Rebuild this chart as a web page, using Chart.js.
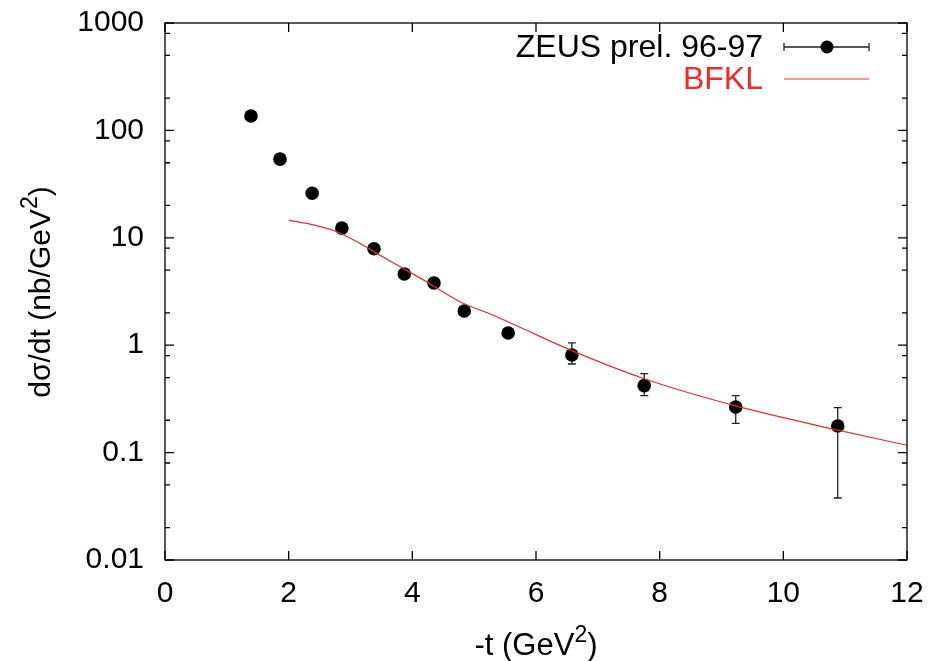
<!DOCTYPE html>
<html>
<head>
<meta charset="utf-8">
<script src="https://cdn.jsdelivr.net/npm/chart.js@4/dist/chart.umd.min.js"></script>
<style>
  html, body { margin: 0; background: #fff; }
</style>
</head>
<body>
<canvas id="xsec" width="929" height="661"></canvas>
<script>
// ZEUS preliminary 96-97 points: -t (GeV^2) and dsigma/dt (nb/GeV^2)
const tVals = [1.39, 1.86, 2.38, 2.86, 3.38, 3.87, 4.35, 4.84, 5.55, 6.58, 7.75, 9.23, 10.88];
const xsecVals = [136, 54, 26, 12.3, 7.9, 4.6, 3.8, 2.08, 1.30, 0.81, 0.42, 0.266, 0.177];
// error bar ends (null where the bar is hidden by the marker)
const errLow = [null, null, null, null, null, null, null, null, null, 0.668, 0.339, 0.1875, 0.0378];
const errHigh = [null, null, null, null, null, null, null, null, null, 1.05, 0.543, 0.339, 0.262];

// BFKL prediction
const bfklT = [2.0, 2.4, 2.78, 3.15, 3.42, 3.75, 4.23, 4.77, 5.3, 5.74, 6.58, 7.74, 9.23, 10.88, 12.0];
const bfklVals = [14.6, 13.2, 11.4, 8.9, 7.2, 5.6, 3.9, 2.54, 1.91, 1.47, 0.89, 0.49, 0.272, 0.162, 0.117];

const xTicks = [0, 2, 4, 6, 8, 10, 12];
const yTicks = [0.01, 0.1, 1, 10, 100, 1000];
const yMinorFactors = [2, 5, 8];

const FONT = "Liberation Sans, Arial, Helvetica, sans-serif";
const INK = "#000";
const RED = "#f02a2a";

// error bars under the markers
const errorBars = {
  id: "errorBars",
  beforeDatasetsDraw(chart) {
    const { ctx, scales: { x, y } } = chart;
    const pts = chart.data.datasets[0].data;
    ctx.save();
    ctx.strokeStyle = "#222";
    ctx.lineWidth = 1.3;
    pts.forEach((p) => {
      if (p.yMin == null) return;
      const px = x.getPixelForValue(p.x);
      const lo = y.getPixelForValue(p.yMin);
      const hi = y.getPixelForValue(p.yMax);
      ctx.beginPath();
      ctx.moveTo(px, lo); ctx.lineTo(px, hi);
      ctx.moveTo(px - 4, lo); ctx.lineTo(px + 4, lo);
      ctx.moveTo(px - 4, hi); ctx.lineTo(px + 4, hi);
      ctx.stroke();
    });
    ctx.restore();
  }
};

// box frame with inward ticks on all four sides
const frame = {
  id: "frame",
  afterDraw(chart) {
    const { ctx, chartArea: a, scales: { x, y } } = chart;
    ctx.save();
    ctx.strokeStyle = INK;
    ctx.lineWidth = 1.3;
    ctx.strokeRect(a.left, a.top, a.right - a.left, a.bottom - a.top);
    ctx.beginPath();
    xTicks.forEach((v) => {
      const px = x.getPixelForValue(v);
      ctx.moveTo(px, a.bottom); ctx.lineTo(px, a.bottom - 9);
      ctx.moveTo(px, a.top); ctx.lineTo(px, a.top + 9);
    });
    yTicks.forEach((v) => {
      const py = y.getPixelForValue(v);
      ctx.moveTo(a.left, py); ctx.lineTo(a.left + 9, py);
      ctx.moveTo(a.right, py); ctx.lineTo(a.right - 9, py);
      if (v === yTicks[yTicks.length - 1]) return;
      yMinorFactors.forEach((f) => {
        const pm = y.getPixelForValue(v * f);
        ctx.moveTo(a.left, pm); ctx.lineTo(a.left + 5, pm);
        ctx.moveTo(a.right, pm); ctx.lineTo(a.right - 5, pm);
      });
    });
    ctx.stroke();
    ctx.restore();
  }
};

// draws "main" + superscript "sup" + "tail" centred on the origin (baseline y = 0)
function drawSupText(ctx, main, sup, tail, size) {
  const small = Math.round(size * 0.75) + "px " + FONT;
  const big = size + "px " + FONT;
  ctx.font = big;
  const w1 = ctx.measureText(main).width;
  const w3 = ctx.measureText(tail).width;
  ctx.font = small;
  const w2 = ctx.measureText(sup).width;
  let x = -(w1 + w2 + w3) / 2;
  ctx.textAlign = "left";
  ctx.textBaseline = "alphabetic";
  ctx.font = big;
  ctx.fillText(main, x, 0);
  x += w1;
  ctx.font = small;
  ctx.fillText(sup, x, -size * 0.42);
  x += w2;
  ctx.font = big;
  ctx.fillText(tail, x, 0);
}

const axisTitles = {
  id: "axisTitles",
  afterDraw(chart) {
    const { ctx } = chart;
    ctx.save();
    ctx.fillStyle = INK;
    ctx.translate(536, 655);
    drawSupText(ctx, "-t (GeV", "2", ")", 31);
    ctx.restore();

    ctx.save();
    ctx.fillStyle = INK;
    ctx.translate(50, 292);
    ctx.rotate(-Math.PI / 2);
    drawSupText(ctx, "d\u03c3/dt (nb/GeV", "2", ")", 30);
    ctx.restore();
  }
};

const keyBox = {
  id: "keyBox",
  afterDraw(chart) {
    const { ctx } = chart;
    ctx.save();
    ctx.font = "32px " + FONT;
    ctx.textAlign = "right";
    ctx.textBaseline = "middle";
    ctx.fillStyle = INK;
    ctx.fillText("ZEUS prel. 96-97", 763, 48);
    ctx.fillStyle = RED;
    ctx.fillText("BFKL", 763, 80);

    ctx.strokeStyle = "#222";
    ctx.lineWidth = 1.3;
    ctx.beginPath();
    ctx.moveTo(784, 47); ctx.lineTo(869, 47);
    ctx.moveTo(784, 43); ctx.lineTo(784, 51);
    ctx.moveTo(869, 43); ctx.lineTo(869, 51);
    ctx.stroke();
    ctx.fillStyle = INK;
    ctx.beginPath();
    ctx.arc(827, 47, 6.5, 0, Math.PI * 2);
    ctx.fill();

    ctx.strokeStyle = RED;
    ctx.lineWidth = 1.2;
    ctx.beginPath();
    ctx.moveTo(784, 79); ctx.lineTo(869, 79);
    ctx.stroke();
    ctx.restore();
  }
};

new Chart(document.getElementById("xsec"), {
  data: {
    datasets: [
      {
        type: "scatter",
        label: "ZEUS prel. 96-97",
        data: tVals.map((t, i) => ({ x: t, y: xsecVals[i], yMin: errLow[i], yMax: errHigh[i] })),
        backgroundColor: INK,
        borderWidth: 0,
        pointRadius: 6.8,
        pointHoverRadius: 6.8,
        order: 1
      },
      {
        type: "line",
        label: "BFKL",
        data: bfklT.map((t, i) => ({ x: t, y: bfklVals[i] })),
        borderColor: RED,
        borderWidth: 1.2,
        pointRadius: 0,
        cubicInterpolationMode: "monotone",
        fill: false,
        order: 0
      }
    ]
  },
  options: {
    responsive: false,
    animation: false,
    events: [],
    layout: { padding: { top: 23, right: 22, left: 0, bottom: 0 } },
    plugins: { legend: { display: false }, tooltip: { enabled: false } },
    scales: {
      x: {
        type: "linear",
        min: 0,
        max: 12,
        afterBuildTicks: (scale) => { scale.ticks = xTicks.map((v) => ({ value: v })); },
        afterFit: (scale) => {
          scale.height = 101;
          scale.paddingLeft = 0;
          scale.paddingRight = 0;
        },
        ticks: { color: INK, padding: 16, font: { family: FONT, size: 30 }, maxRotation: 0 },
        grid: { display: false, drawTicks: false },
        border: { display: false }
      },
      y: {
        type: "logarithmic",
        min: 0.01,
        max: 1000,
        afterBuildTicks: (scale) => { scale.ticks = yTicks.map((v) => ({ value: v })); },
        afterFit: (scale) => {
          scale.width = 165;
          scale.paddingTop = 0;
          scale.paddingBottom = 0;
        },
        ticks: { color: INK, padding: 21, font: { family: FONT, size: 30 }, callback: (v) => String(v) },
        grid: { display: false, drawTicks: false },
        border: { display: false }
      }
    }
  },
  plugins: [errorBars, frame, axisTitles, keyBox]
});
</script>
</body>
</html>
